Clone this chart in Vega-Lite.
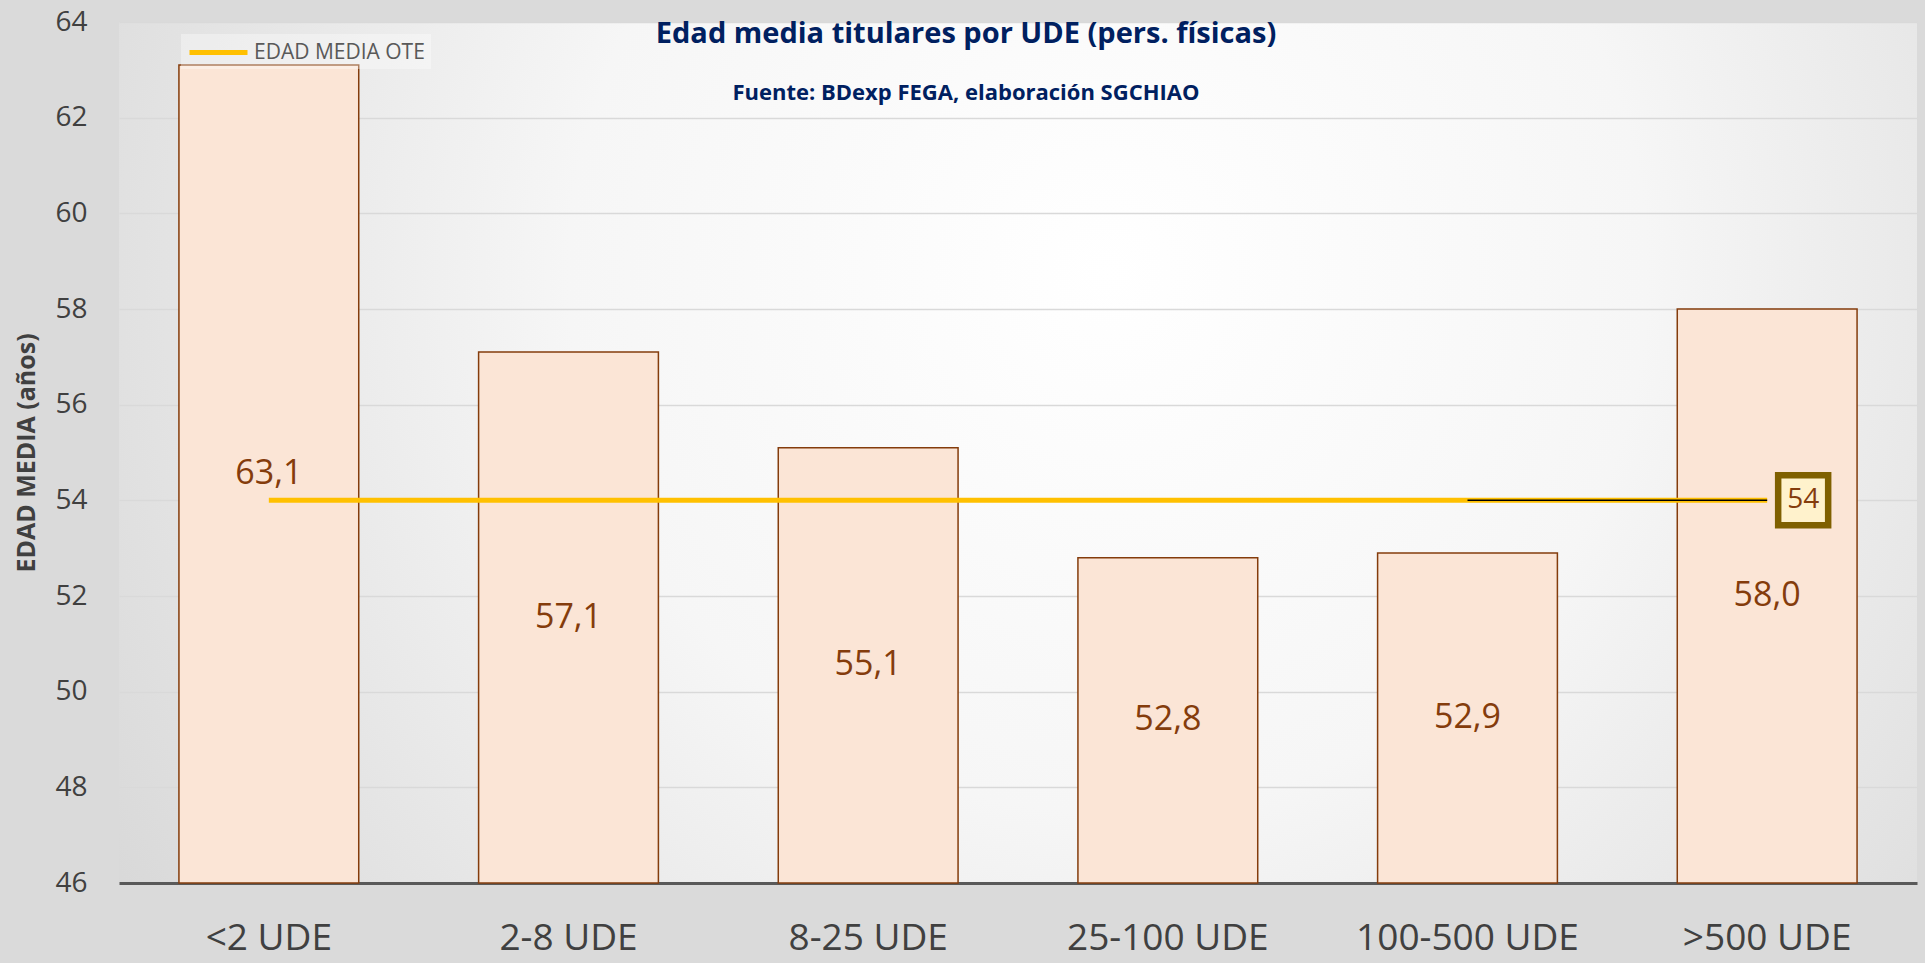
{
  "$schema": "https://vega.github.io/schema/vega-lite/v6.json",
  "width": 1925,
  "height": 963,
  "autosize": {"type": "fit", "contains": "padding"},
  "padding": {"top": 8, "left": 14, "right": 8, "bottom": 7},
  "background": "#dadada",
  "config": {
    "font": "Open Sans",
    "locale": {"number": {"decimal": ",", "thousands": ".", "grouping": [3], "currency": ["", " €"]}},
    "view": {
      "stroke": null,
      "fill": {"gradient": "radial", "x1": 0.55, "y1": 0.4, "r1": 0, "x2": 0.55, "y2": 0.4, "r2": 0.75,
        "stops": [{"offset": 0, "color": "#ffffff"}, {"offset": 0.4, "color": "#f6f6f6"}, {"offset": 1, "color": "#d0d0d0"}]}
    }
  },
  "title": {
    "text": "Edad media titulares por UDE (pers. físicas)",
    "subtitle": "Fuente: BDexp FEGA, elaboración SGCHIAO",
    "orient": "top",
    "anchor": "middle",
    "frame": "bounds",
    "offset": -96,
    "font": "Open Sans",
    "fontSize": 29,
    "fontWeight": "bold",
    "color": "#002060",
    "subtitleFont": "Open Sans",
    "subtitleFontSize": 22,
    "subtitleFontWeight": "bold",
    "subtitleColor": "#002060",
    "subtitlePadding": 34
  },
  "data": {
    "values": [
      {"ude": "<2 UDE", "edad": 63.1, "ote": 54},
      {"ude": "2-8 UDE", "edad": 57.1, "ote": 54},
      {"ude": "8-25 UDE", "edad": 55.1, "ote": 54},
      {"ude": "25-100 UDE", "edad": 52.8, "ote": 54},
      {"ude": "100-500 UDE", "edad": 52.9, "ote": 54},
      {"ude": ">500 UDE", "edad": 58.0, "ote": 54}
    ]
  },
  "encoding": {
    "x": {
      "field": "ude",
      "type": "nominal",
      "sort": null,
      "scale": {"paddingInner": 0.4, "paddingOuter": 0.2},
      "axis": {
        "title": null,
        "labelAngle": 0,
        "labelFontSize": 37,
        "labelColor": "#404040",
        "labelPadding": 37,
        "labelLimit": 0,
        "domainColor": "#595959",
        "domainWidth": 3,
        "ticks": false,
        "grid": false
      }
    }
  },
  "layer": [
    {
      "mark": {"type": "bar", "fill": "#FBE5D6", "stroke": "#843C0C", "strokeWidth": 1.5},
      "encoding": {
        "y": {
          "field": "edad",
          "type": "quantitative",
          "scale": {"domain": [46, 64], "nice": false, "zero": false},
          "axis": {
            "title": "EDAD MEDIA (años)",
            "titleFontSize": 25,
            "titleFontWeight": "bold",
            "titleColor": "#404040",
            "titlePadding": 15,
            "labelFontSize": 28,
            "labelColor": "#404040",
            "labelPadding": 32,
            "values": [46, 48, 50, 52, 54, 56, 58, 60, 62, 64],
            "grid": true,
            "gridColor": "#d9d9d9",
            "gridWidth": 1.5,
            "domain": false,
            "ticks": false
          }
        },
        "y2": {"datum": 46}
      }
    },
    {
      "transform": [{"calculate": "(46 + datum.edad) / 2", "as": "pos"}],
      "mark": {"type": "text", "fontSize": 34, "color": "#843C0C", "baseline": "middle"},
      "encoding": {
        "y": {"field": "pos", "type": "quantitative", "title": "EDAD MEDIA (años)"},
        "text": {"field": "edad", "type": "quantitative", "format": ".1f"}
      }
    },
    {
      "mark": {"type": "line", "strokeWidth": 5, "strokeCap": "butt"},
      "encoding": {
        "y": {"field": "ote", "type": "quantitative", "title": "EDAD MEDIA (años)"},
        "color": {
          "datum": "EDAD MEDIA OTE",
          "scale": {"range": ["#FFC000"]},
          "legend": {
            "orient": "none",
            "legendX": 62,
            "legendY": 12,
            "title": null,
            "labelFontSize": 21,
            "labelColor": "#595959",
            "labelLimit": 0,
            "labelOffset": 42,
            "symbolType": "M-1,0H4.8",
            "symbolStrokeWidth": 5,
            "symbolSize": 400,
            "fillColor": "rgba(255,255,255,0.35)",
            "padding": 6
          }
        }
      }
    },
    {
      "transform": [{"filter": "datum.ude == '100-500 UDE' || datum.ude == '>500 UDE'"}],
      "mark": {"type": "line", "color": "#000000", "strokeWidth": 1.5},
      "encoding": {
        "y": {"field": "ote", "type": "quantitative", "title": "EDAD MEDIA (años)"}
      }
    },
    {
      "transform": [{"filter": "datum.ude == '>500 UDE'"}],
      "mark": {"type": "point", "shape": "square", "size": 2500, "filled": false, "fill": "#FFF2CC", "fillOpacity": 1, "stroke": "#7F6000", "strokeWidth": 6.5, "opacity": 1, "xOffset": 36},
      "encoding": {
        "y": {"field": "ote", "type": "quantitative", "title": "EDAD MEDIA (años)"}
      }
    },
    {
      "transform": [{"filter": "datum.ude == '>500 UDE'"}],
      "mark": {"type": "text", "fontSize": 28, "color": "#843C0C", "dx": 36, "baseline": "middle"},
      "encoding": {
        "y": {"field": "ote", "type": "quantitative", "title": "EDAD MEDIA (años)"},
        "text": {"field": "ote", "type": "quantitative", "format": "d"}
      }
    }
  ]
}
